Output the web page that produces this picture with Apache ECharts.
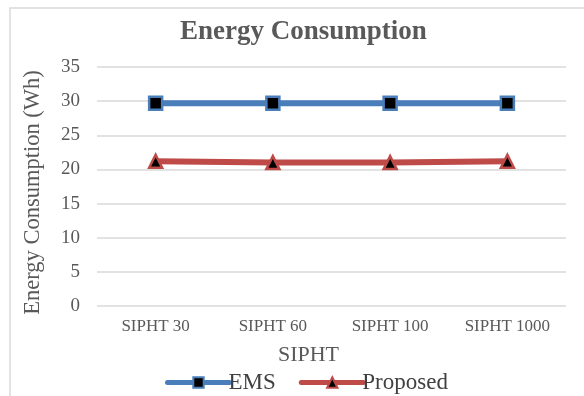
<!DOCTYPE html>
<html>
<head>
<meta charset="utf-8">
<script src="https://cdn.jsdelivr.net/npm/echarts@6/dist/echarts.min.js"></script>
<style>
  html, body { margin: 0; padding: 0; background: #fff; }
  #chart { width: 584px; height: 396px; }
</style>
</head>
<body>
<div id="chart"></div>
<script>
// Workflow sizes on the x axis
var categories = ['SIPHT 30', 'SIPHT 60', 'SIPHT 100', 'SIPHT 1000'];
// Energy consumption (Wh) per method
var emsValues = [29.7, 29.7, 29.7, 29.7];
var proposedValues = [21.2, 21.0, 21.0, 21.2];
// Y axis range
var yMin = 0, yMax = 35, yStep = 5;

var FONT = '"Liberation Serif", "Times New Roman", serif';
var chart = echarts.init(document.getElementById('chart'));

chart.setOption({
  backgroundColor: '#fff',
  animation: false,
  graphic: [{
    type: 'rect',
    shape: { x: 10, y: 8, width: 600, height: 420 },
    style: { fill: 'none', stroke: '#d9d9d9', lineWidth: 1.5 },
    silent: true
  }],
  title: {
    text: 'Energy Consumption',
    left: 175, top: 14,
    textStyle: { fontFamily: FONT, fontWeight: 'bold', fontSize: 27, color: '#595959' }
  },
  legend: {
    top: 366, left: 160,
    itemWidth: 62, itemHeight: 13, itemGap: 23,
    lineStyle: { width: 5, cap: 'round' },
    textStyle: { fontFamily: FONT, fontSize: 23, color: '#404040', padding: [0, 0, 0, -6] },
    data: ['EMS', 'Proposed']
  },
  grid: { left: 97, right: 18, top: 67, bottom: 90, containLabel: false },
  xAxis: {
    type: 'category',
    data: categories,
    boundaryGap: true,
    name: 'SIPHT',
    nameLocation: 'middle',
    nameGap: 38,
    nameTextStyle: { fontFamily: FONT, fontSize: 22, color: '#595959', padding: [0, 46, 0, 0] },
    axisLine: { show: false },
    axisTick: { show: false },
    axisLabel: { fontFamily: FONT, fontSize: 17, color: '#595959', margin: 12 }
  },
  yAxis: {
    type: 'value',
    min: yMin, max: yMax, interval: yStep,
    name: 'Energy Consumption (Wh)',
    nameLocation: 'middle',
    nameGap: 52,
    nameTextStyle: { fontFamily: FONT, fontSize: 22.5, color: '#595959', padding: [0, 12, 0, 0] },
    axisLine: { show: false },
    axisTick: { show: false },
    axisLabel: { fontFamily: FONT, fontSize: 19, color: '#595959', margin: 17 },
    splitLine: { lineStyle: { color: '#d9d9d9', width: 1.5 } }
  },
  series: [
    {
      name: 'EMS',
      type: 'line',
      data: emsValues,
      symbol: 'rect',
      symbolSize: 13,
      lineStyle: { color: '#4a7ebb', width: 6 },
      itemStyle: { color: '#000', borderColor: '#4a7ebb', borderWidth: 2.5 },
      color: '#4a7ebb'
    },
    {
      name: 'Proposed',
      type: 'line',
      data: proposedValues,
      symbol: 'triangle',
      symbolSize: 13,
      lineStyle: { color: '#be4b48', width: 6 },
      itemStyle: { color: '#000', borderColor: '#be4b48', borderWidth: 2.5 },
      color: '#be4b48'
    }
  ]
});
</script>
</body>
</html>
